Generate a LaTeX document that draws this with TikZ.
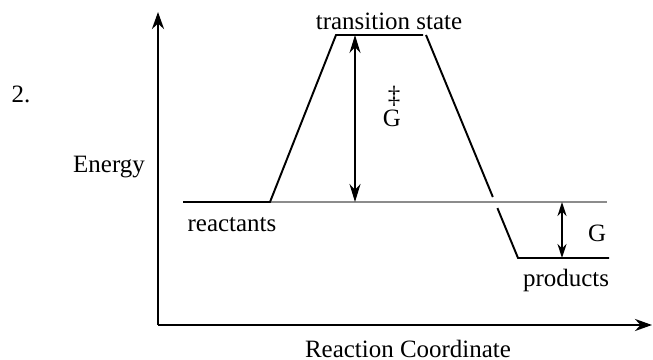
\documentclass[tikz,border=0pt]{standalone}
\usepackage{fontspec}
\setmainfont{Liberation Serif}
\definecolor{LevelGray}{HTML}{8C8C8C}
\usetikzlibrary{arrows.meta, calc}
\tikzset{
  axisline/.style={line width=1.6pt, -{Stealth[length=0.34cm, width=0.24cm]}},
  pathline/.style={line width=1.1pt},
  gapline/.style={line width=1.2pt, {Stealth[length=0.36cm, width=0.22cm]}-{Stealth[length=0.36cm, width=0.22cm]}},
  smallgap/.style={line width=1.2pt, {Stealth[length=0.28cm, width=0.18cm]}-{Stealth[length=0.28cm, width=0.18cm]}},
  tag/.style={font=\fontsize{14.2}{17}\selectfont, inner sep=0pt}
}

\begin{document}
\begin{tikzpicture}
        \useasboundingbox (-3.16,-0.7) rectangle (9.9,6.5);

        % Axes
        \coordinate (origin) at (0,0);
        \coordinate (ytop) at (0,6.26);
        \coordinate (xend) at (9.88,0);
        \draw[axisline] (origin) -- (ytop);
        \draw[axisline] (origin) -- (xend);

        % Energy profile
        \coordinate (reactL) at (0.5,2.46);
        \coordinate (reactR) at (2.24,2.46);
        \coordinate (baseR) at (8.98,2.46);
        \coordinate (tsL) at (3.56,5.8);
        \coordinate (tsM) at (4.44,5.8);
        \coordinate (tsR) at (5.3,5.8);
        \coordinate (fallTop) at (5.36,5.8);
        \coordinate (prodL) at (7.2,1.34);
        \coordinate (prodR) at (9.02,1.34);
        \draw[LevelGray, line width=1pt] (reactR) -- (baseR);
        \draw[pathline] (reactL) -- (reactR) -- (tsL) -- (tsR);
        \draw[line width=1.6pt] (tsM) -- (tsR);
        \draw[pathline] (fallTop) -- ($(fallTop)!0.7265!(prodL)$);
        \draw[pathline] ($(fallTop)!0.776!(prodL)$) -- (prodL) -- (prodR);

        % Free energy gaps
        \coordinate (actTop) at (3.94,5.8);
        \coordinate (actBot) at (3.94,2.46);
        \draw[gapline] (actTop) -- (actBot);
        \coordinate (dgTop) at (8.08,2.46);
        \coordinate (dgBot) at (8.08,1.34);
        \draw[smallgap] (dgTop) -- (dgBot);

        % Labels
        \node[tag] (num) at (-2.74, 4.62) {2.};
        \node[tag] (energy) at (-0.98, 3.16) {Energy};
        \node[tag] (react) at (1.48, 2.0) {reactants};
        \node[tag] (ts) at (4.62, 6.08) {transition state};
        \node[tag] (ddag) at (4.72, 4.58) {‡};
        \node[tag] (actG) at (4.68, 4.14) {G};
        \node[tag] (dG) at (8.78, 1.84) {G};
        \node[tag] (prod) at (8.16, 0.88) {products};
        \node[tag] (rxn) at (5.0, -0.47) {Reaction Coordinate};
    \end{tikzpicture}
\end{document}
